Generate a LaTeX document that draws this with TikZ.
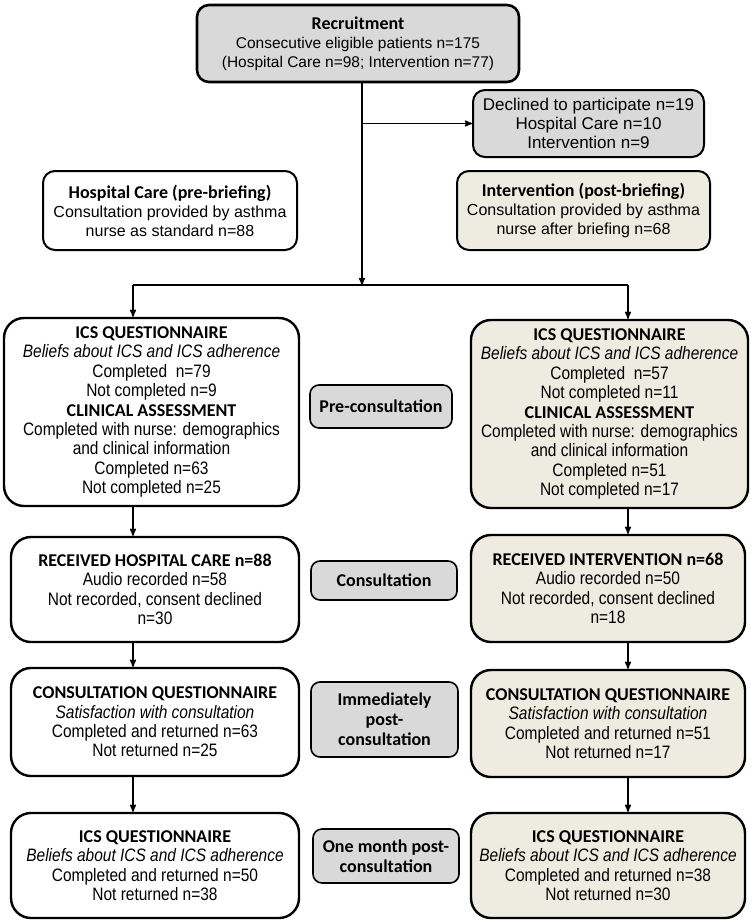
\documentclass[tikz,border=0pt]{standalone}
\usepackage{fontspec}
\setmainfont{Liberation Sans}
\newfontfamily\headfont{Carlito}
\newfontfamily\narrowfont[FakeStretch=0.86]{Liberation Sans}
\usetikzlibrary{arrows,positioning}
\definecolor{boxgray}{HTML}{D9D9D9}
\definecolor{boxtan}{HTML}{EEECE1}
\newcommand{\boxhead}[1]{{\headfont\bfseries #1}}
\newcommand{\tophead}[1]{{\headfont\bfseries\fontsize{18}{19}\selectfont #1}}

\begin{document}
\begin{tikzpicture}[x=1pt,y=-1pt,
    bigbox/.style={draw,line width=2.4pt,rounded corners=20pt,align=center,inner sep=0pt,
      font=\narrowfont\fontsize{18}{19.4}\selectfont},
    topbox/.style={draw,line width=2pt,rounded corners=12pt,align=center,inner sep=0pt,
      font=\fontsize{16}{19}\selectfont},
    phase/.style={draw,line width=1.6pt,rounded corners=9pt,align=center,inner sep=0pt,fill=boxgray,
      font=\headfont\bfseries\fontsize{18}{20}\selectfont},
    conn/.style={line width=1.5pt,>=stealth'}]
\useasboundingbox (0,0) rectangle (750,924);

% enrolment
\node[topbox,line width=2.6pt,fill=boxgray,minimum width=322pt,minimum height=77pt,
  font=\fontsize{15.5}{19}\selectfont] (recruit) at (358,43.5)
  {\tophead{Recruitment}\\Consecutive eligible patients n=175\\(Hospital Care n=98; Intervention n=77)};
\node[topbox,fill=boxgray,minimum width=231pt,minimum height=67pt,
  font=\fontsize{17}{19}\selectfont] (declined) at (588.5,123.5)
  {Declined to participate n=19\\Hospital Care n=10\\Intervention n=9};
\node[topbox,minimum width=254pt,minimum height=79pt] (hosp) at (170,210.5)
  {\tophead{Hospital Care (pre-briefing)}\\Consultation provided by asthma\\nurse as standard n=88};
\node[topbox,fill=boxtan,minimum width=253pt,minimum height=79pt] (interv) at (583.5,210.5)
  {\tophead{Intervention (post-briefing)}\\Consultation provided by asthma\\nurse after briefing n=68};

% hospital care arm
\node[bigbox,minimum width=295pt,minimum height=188pt] (icsL) at (151.5,412)
  {\boxhead{ICS QUESTIONNAIRE}\\\textit{Beliefs about ICS and ICS adherence}\\Completed\ \ n=79\\Not completed n=9\\
   \boxhead{CLINICAL ASSESSMENT}\\Completed with nurse: demographics\\and clinical information\\Completed n=63\\Not completed n=25};
\node[bigbox,minimum width=288pt,minimum height=105pt] (recL) at (155,589.5)
  {\boxhead{RECEIVED HOSPITAL CARE n=88}\\Audio recorded n=58\\Not recorded, consent declined\\n=30};
\node[bigbox,minimum width=288pt,minimum height=108pt] (cqL) at (155,722)
  {\boxhead{CONSULTATION QUESTIONNAIRE}\\\textit{Satisfaction with consultation}\\Completed and returned n=63\\Not returned n=25};
\node[bigbox,minimum width=288pt,minimum height=105pt] (fuL) at (155,865.5)
  {\boxhead{ICS QUESTIONNAIRE}\\\textit{Beliefs about ICS and ICS adherence}\\Completed and returned n=50\\Not returned n=38};

% intervention arm
\node[bigbox,fill=boxtan,minimum width=277pt,minimum height=188pt] (icsR) at (609.5,414)
  {\boxhead{ICS QUESTIONNAIRE}\\\textit{Beliefs about ICS and ICS adherence}\\Completed\ \ n=57\\Not completed n=11\\
   \boxhead{CLINICAL ASSESSMENT}\\Completed with nurse: demographics\\and clinical information\\Completed n=51\\Not completed n=17};
\node[bigbox,fill=boxtan,minimum width=274pt,minimum height=107pt] (recR) at (608,588.5)
  {\boxhead{RECEIVED INTERVENTION n=68}\\Audio recorded n=50\\Not recorded, consent declined\\n=18};
\node[bigbox,fill=boxtan,minimum width=274pt,minimum height=107pt] (cqR) at (608,723.5)
  {\boxhead{CONSULTATION QUESTIONNAIRE}\\\textit{Satisfaction with consultation}\\Completed and returned n=51\\Not returned n=17};
\node[bigbox,fill=boxtan,minimum width=274pt,minimum height=105pt] (fuR) at (608,865.5)
  {\boxhead{ICS QUESTIONNAIRE}\\\textit{Beliefs about ICS and ICS adherence}\\Completed and returned n=38\\Not returned n=30};

% time points
\node[phase,minimum width=142pt,minimum height=43pt] (pre) at (381,406.5) {Pre-consultation};
\node[phase,minimum width=146pt,minimum height=39pt] (consult) at (384,580.5) {Consultation};
\node[phase,minimum width=147pt,minimum height=75pt] (imm) at (384.5,719.5) {Immediately\\post-\\consultation};
\node[phase,minimum width=146pt,minimum height=54pt] (month) at (386,856) {One month post-\\consultation};

\coordinate (split) at (362,285);
\coordinate (lcol) at (133,0);
\coordinate (rcol) at (628,0);

\draw[conn,->] (recruit.south -| split) -- (split);
\draw[conn,->] (declined.west -| split) -- (declined.west);
\draw[conn] (split -| lcol) -- (split -| rcol);
\draw[conn,->] (split -| lcol) -- (icsL.north -| lcol);
\draw[conn,->] (split -| rcol) -- (icsR.north -| rcol);
\foreach \a/\b in {icsL/recL,recL/cqL,cqL/fuL}
  \draw[conn,->] (\a.south -| lcol) -- (\b.north -| lcol);
\foreach \a/\b in {icsR/recR,recR/cqR,cqR/fuR}
  \draw[conn,->] (\a.south -| rcol) -- (\b.north -| rcol);
\end{tikzpicture}
\end{document}
